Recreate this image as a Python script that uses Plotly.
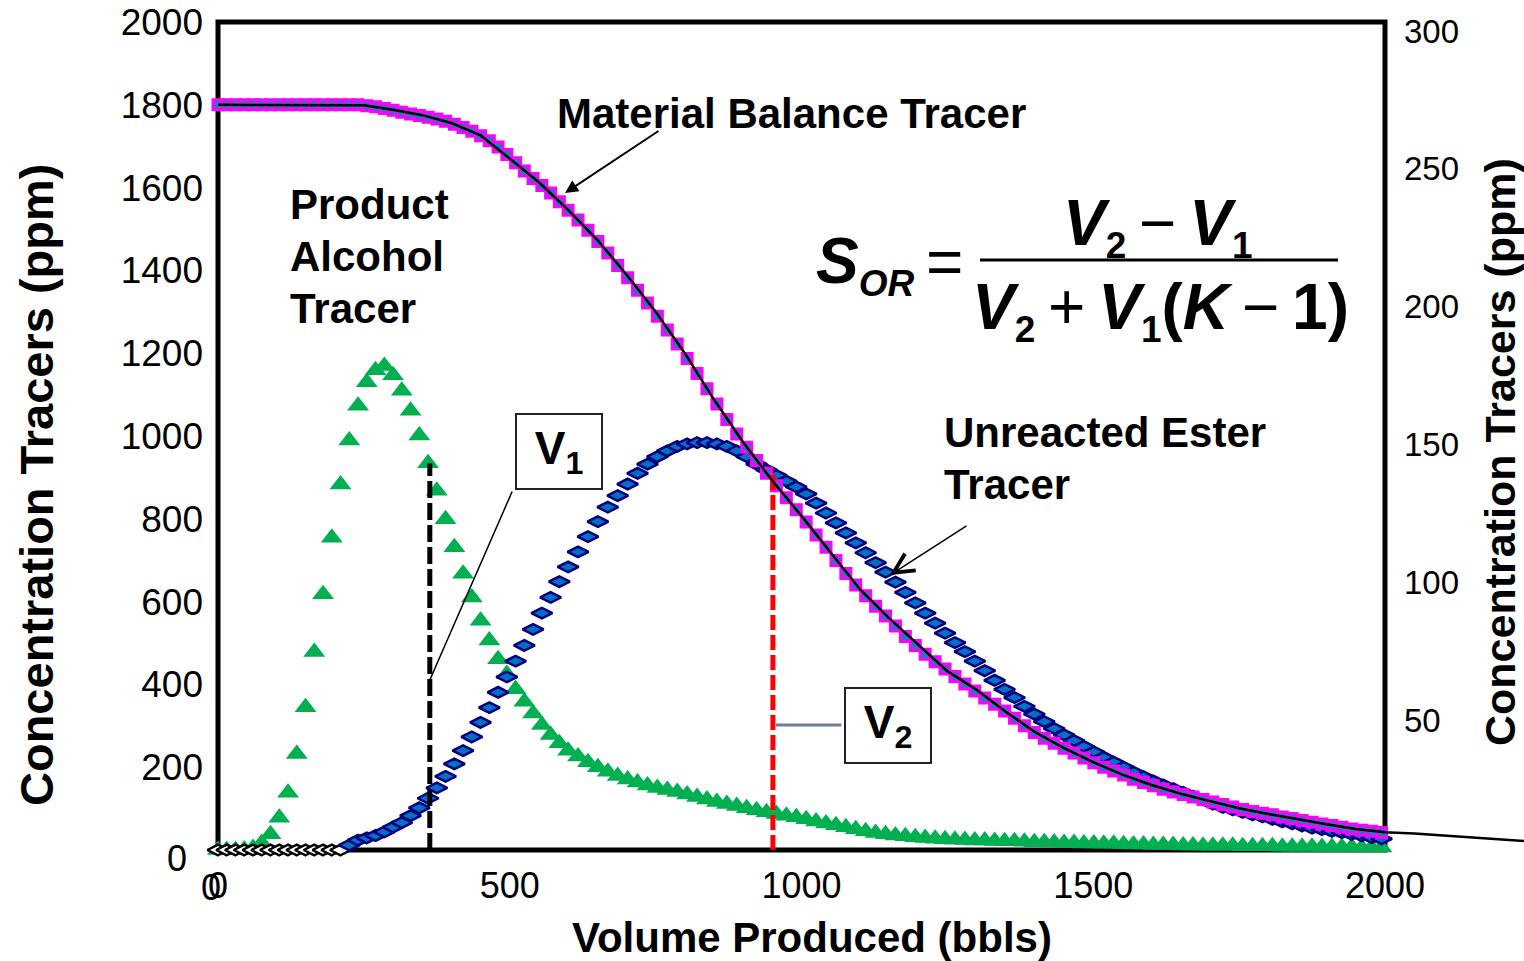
import plotly.graph_objects as go

# ---------------------------------------------------------------- data
# produced volume (bbls) at each tracer sample
volume_bbl = [
    0, 15, 30, 45, 60, 75, 90, 105, 120, 135, 150, 165, 180, 195, 210, 225, 240, 255, 270, 285,
    300, 315, 330, 345, 360, 375, 390, 405, 420, 435, 450, 465, 480, 495, 510, 525, 540, 555, 570, 585, 600,
    617, 634, 651, 668, 685, 702, 719, 736, 753, 770,
    787, 804, 821, 838, 855, 872, 889, 906, 923, 940,
    957, 974, 991, 1008, 1025, 1042, 1059, 1076, 1093, 1110,
    1127, 1144, 1161, 1178, 1195, 1212, 1229, 1246, 1263, 1280,
    1297, 1314, 1331, 1348, 1365, 1382, 1399, 1416, 1433, 1450,
    1467, 1484, 1501, 1518, 1535, 1552, 1569, 1586, 1603, 1620,
    1637, 1654, 1671, 1688, 1705, 1722, 1739, 1756, 1773, 1790,
    1807, 1824, 1841, 1858, 1875, 1892, 1909, 1926, 1943, 1960,
    1977, 1994,
]

# product alcohol tracer (ppm)
alcohol_ppm = [
    0, 0, 0, 1, 5, 17, 38, 78, 138, 232, 345, 478, 618, 754, 883, 989, 1073, 1130, 1159, 1169,
    1147, 1109, 1061, 1001, 934, 868, 799, 731, 667, 610, 554, 506, 461, 425, 388, 358, 330, 302, 278, 258, 240,
    226, 212, 200, 189, 179, 170, 163, 156, 150, 145,
    140, 134, 128, 122, 116, 111, 106, 101, 96, 91,
    87, 83, 79, 74, 69, 64, 60, 55, 50, 45,
    41, 38, 35, 33, 31, 29, 27, 26, 25, 24,
    23, 23, 22, 21, 21, 20, 19, 19, 18, 17,
    17, 16, 16, 15, 15, 14, 13, 13, 12, 12,
    12, 11, 11, 10, 10, 10, 10, 9, 9, 9,
    9, 8, 8, 8, 8, 7, 7, 7, 7, 6,
    6, 6,
]

# unreacted ester tracer (ppm)
ester_ppm = [
    0, 0, 0, 0, 0, 0, 0, 0, 0, 0, 0, 0, 0, 0, 0, 12, 24, 29, 35, 44,
    55, 66, 83, 102, 125, 150, 178, 208, 240, 273, 308, 344, 381, 418, 456, 494, 533, 572, 610, 648, 684,
    720, 757, 793, 828, 856, 884, 910, 932, 950, 964,
    975, 981, 984, 984, 981, 975, 964, 950, 932, 918,
    905, 891, 877, 860, 838, 814, 790, 766, 742, 718,
    694, 671, 647, 622, 597, 572, 548, 524, 501, 479,
    456, 433, 410, 388, 368, 347, 328, 310, 293, 278,
    264, 250, 237, 224, 212, 200, 188, 177, 167, 157,
    148, 139, 130, 121, 111, 103, 97, 91, 85, 80,
    74, 68, 63, 58, 53, 49, 45, 42, 38, 34,
    30, 27,
]

# material balance tracer (ppm)
balance_ppm = [
    1800, 1800, 1800, 1800, 1800, 1800, 1800, 1800, 1800, 1800, 1800, 1800, 1800, 1800, 1800, 1800, 1800,
    1798, 1795, 1791, 1787, 1782, 1778, 1774, 1770, 1766, 1760, 1753, 1745, 1736, 1725, 1713, 1698,
    1680, 1660, 1640, 1622, 1605, 1587, 1566, 1545,
    1522, 1497, 1470, 1442, 1412, 1382, 1352, 1321, 1289, 1256,
    1222, 1187, 1151, 1114, 1077, 1040, 1005, 973, 941, 910,
    880, 851, 822, 792, 761, 731, 699, 668, 640, 614,
    589, 565, 541, 516, 494, 473, 455, 437, 419, 401,
    384, 367, 352, 336, 318, 300, 284, 270, 258, 246,
    234, 222, 211, 200, 191, 181, 171, 163, 155, 147,
    140, 134, 128, 122, 116, 110, 104, 98, 93, 89,
    85, 80, 76, 71, 67, 63, 59, 55, 51, 48,
    45, 42,
]

# fitted material balance curve (ppm), continues past the last sample
model_bbl = [0, 50, 100, 150, 200, 250, 300, 350, 400, 450, 500, 550, 600, 650, 700, 750, 800, 850,
             900, 950, 1000, 1050, 1100, 1150, 1200, 1250, 1300, 1350, 1400, 1450, 1500, 1550, 1600,
             1650, 1700, 1750, 1800, 1850, 1900, 1950, 2000, 2050, 2100, 2150, 2200, 2238]
model_ppm = [1800, 1800, 1800, 1800, 1800, 1799, 1788, 1775, 1756, 1726, 1670, 1613, 1546, 1474, 1390,
             1300, 1200, 1088, 985, 892, 807, 718, 630, 560, 495, 432, 387, 334, 285, 246, 212, 182, 157,
             136, 118, 101, 87, 74, 62, 51, 43, 40, 35, 30, 25, 22]

# breakthrough volumes used in the residual oil saturation formula
V1_BBL, V1_PPM = 363, 934
V2_BBL, V2_PPM = 951, 920

# secondary (right) concentration scale
RIGHT_RANGE = [2.9, 303.3]
RIGHT_TICKS = [50, 100, 150, 200, 250, 300]

for name, arr in [("alcohol", alcohol_ppm), ("ester", ester_ppm), ("balance", balance_ppm)]:
    if len(arr) != len(volume_bbl):
        raise ValueError(f"{name}: {len(arr)} values for {len(volume_bbl)} volumes")
if len(model_ppm) != len(model_bbl):
    raise ValueError("model length mismatch")

# ---------------------------------------------------------------- geometry
W, H = 1524, 961
ML, MR, MT, MB = 218, 0, 22, 111
PLOT_RIGHT = 1385
X_END = (PLOT_RIGHT - ML) / (W - ML - MR)
FONT = "Liberation Sans, Arial, sans-serif"


def pp(px, py):
    """pixel position -> paper coordinates"""
    return (px - ML) / (W - ML - MR), (H - MB - py) / (H - MT - MB)


# ---------------------------------------------------------------- traces
fig = go.Figure()

fig.add_trace(go.Scatter(
    x=volume_bbl, y=alcohol_ppm, mode="markers", name="Product Alcohol Tracer",
    marker=dict(symbol="triangle-up", size=19, color="#00B050", line=dict(width=0)),
    cliponaxis=False))

fig.add_trace(go.Scatter(
    x=volume_bbl, y=ester_ppm, mode="markers", name="Unreacted Ester Tracer",
    marker=dict(symbol="diamond-wide", size=15,
                color=["white" if v == 0 else "#0070C0" for v in ester_ppm],
                line=dict(width=2.5, color=["black" if v == 0 else "#000080" for v in ester_ppm])),
    cliponaxis=False))

fig.add_trace(go.Scatter(
    x=volume_bbl, y=balance_ppm, mode="markers", name="Material Balance Tracer",
    marker=dict(symbol="square", size=10, color="#1F78C1", line=dict(width=3, color="#FF00FF")),
    cliponaxis=False))

fig.add_trace(go.Scatter(
    x=[V1_BBL, V1_BBL], y=[0, V1_PPM], mode="lines",
    line=dict(color="black", width=5, dash="17px,5px")))
fig.add_trace(go.Scatter(
    x=[V2_BBL, V2_BBL], y=[0, V2_PPM], mode="lines",
    line=dict(color="#FF0000", width=5, dash="15px,5px")))

fig.add_trace(go.Scatter(
    x=model_bbl, y=model_ppm, mode="lines", xaxis="x2", yaxis="y",
    line=dict(color="black", width=2.5)))

# empty trace so the right-hand scale is laid out
fig.add_trace(go.Scatter(x=[None], y=[None], yaxis="y2", mode="markers",
                         hoverinfo="skip", showlegend=False))

# ---------------------------------------------------------------- annotations
ann = []


def text(px, py, s, size=42, xanchor="left", yanchor="middle", angle=0, bold=True, **kw):
    x, y = pp(px, py)
    ann.append(dict(x=x, y=y, xref="paper", yref="paper", text=f"<b>{s}</b>" if bold else s,
                    showarrow=False, xanchor=xanchor, yanchor=yanchor, textangle=angle,
                    font=dict(family=FONT, size=size, color="black"), **kw))


# axis titles
text(36, 485, "Concentration Tracers (ppm)", size=47, xanchor="center", angle=-90)
text(1500, 452, "Concentration Tracers (ppm)", size=43, xanchor="center", angle=-90)
text(812, 937, "Volume Produced (bbls)", size=42, xanchor="center")

# extra zero labels at the origin
text(177, 858, "0", size=36, xanchor="center", bold=False)
text(211, 887, "0", size=36, xanchor="center", bold=False)

# curve labels
text(555, 113, "Material Balance Tracer")
text(288, 205, "Product")
text(288, 256, "Alcohol")
text(288, 308, "Tracer")
text(942, 432, "Unreacted Ester")
text(942, 484, "Tracer")

# pointer arrows
hx, hy = pp(565, 193)
ann.append(dict(x=hx, y=hy, xref="paper", yref="paper", text="", showarrow=True,
                ax=95, ay=-63, arrowhead=2, arrowsize=1.3, arrowwidth=2, arrowcolor="black"))
hx, hy = pp(890, 575)
ann.append(dict(x=hx, y=hy, xref="paper", yref="paper", text="", showarrow=True,
                ax=78, ay=-50, arrowhead=5, arrowsize=2.6, arrowwidth=1.5, arrowcolor="black"))

# V1 callout
bx, by = pp(559, 451.5)
ann.append(dict(x=bx, y=by, xref="paper", yref="paper",
                text="<b>V</b><sub><b>1</b></sub>", showarrow=False,
                xanchor="center", yanchor="middle", width=84, height=73, borderpad=0,
                bordercolor="#222222", borderwidth=2, bgcolor="white",
                font=dict(family=FONT, size=46, color="black")))
_, ly = pp(0, 680)
ann.append(dict(x=V1_BBL, y=ly, xref="x", yref="paper", text="", showarrow=True,
                ax=83, ay=-190, arrowhead=0, arrowwidth=1.5, arrowcolor="black"))

# V2 callout with its leader
bx, by = pp(887.5, 725.5)
ann.append(dict(x=bx, y=by, xref="paper", yref="paper",
                text="<b>V</b><sub><b>2</b></sub>", showarrow=False,
                xanchor="center", yanchor="middle", width=84, height=73, borderpad=0,
                bordercolor="#222222", borderwidth=2, bgcolor="white",
                font=dict(family=FONT, size=46, color="black")))
_, ly = pp(0, 725)
ann.append(dict(x=V2_BBL, y=ly, xref="x", yref="paper", text="", showarrow=True,
                ax=70, ay=0, arrowhead=0, arrowwidth=3, arrowcolor="#6F7D9F",
                standoff=3))

# residual oil saturation formula
SUB = "<sub><span style='font-size:37px'>{}</span></sub>"
SP = "\u2009"
eq_font = dict(family=FONT, size=64, color="black")


def eq(px, py, s, xanchor="center"):
    x, y = pp(px, py)
    ann.append(dict(x=x, y=y, xref="paper", yref="paper", text=s, showarrow=False,
                    xanchor=xanchor, yanchor="middle", font=eq_font))


eq(814, 264, "<b><i>S</i></b>" + SUB.format("<b><i>OR</i></b>"), xanchor="left")
eq(944, 262, "=")
eq(1158, 226, "<b><i>V</i></b>" + SUB.format("<b>2</b>") + SP + "\u2212" + SP
   + "<b><i>V</i></b>" + SUB.format("<b>1</b>"))
eq(1160, 310, "<b><i>V</i></b>" + SUB.format("<b>2</b>") + SP + "+" + SP
   + "<b><i>V</i></b>" + SUB.format("<b>1</b>") + "<b>(<i>K</i></b>" + SP + "\u2212" + SP
   + "<b>1)</b>")

bx0, bar_y = pp(980, 260)
bx1, _ = pp(1338, 260)

# ---------------------------------------------------------------- layout
fig.update_layout(
    template="none",
    width=W, height=H,
    margin=dict(l=ML, r=MR, t=MT, b=MB, pad=0, autoexpand=False),
    paper_bgcolor="white", plot_bgcolor="rgba(0,0,0,0)",
    showlegend=False,
    font=dict(family=FONT, color="black"),
    xaxis=dict(domain=[0, X_END], range=[0, 2000], tickvals=[0, 500, 1000, 1500, 2000],
               ticks="", showgrid=False, zeroline=False, showline=False, automargin=False,
               tickfont=dict(size=36, family=FONT, color="black"), ticklabelstandoff=11),
    xaxis2=dict(domain=[0, 1], range=[0, 2000 / X_END], anchor="y", visible=False,
                automargin=False),
    yaxis=dict(range=[0, 2000], tickvals=list(range(200, 2001, 200)),
               ticks="", showgrid=False, zeroline=False, showline=False, automargin=False,
               tickfont=dict(size=37, family=FONT, color="black"), ticklabelstandoff=14),
    yaxis2=dict(overlaying="y", side="right", anchor="x", range=RIGHT_RANGE,
                tickvals=RIGHT_TICKS, ticks="", showgrid=False, automargin=False,
                zeroline=False, showline=False,
                tickfont=dict(size=33, family=FONT, color="black"), ticklabelstandoff=18),
    annotations=ann,
    shapes=[
        dict(type="rect", xref="x domain", yref="y domain", x0=0, x1=1, y0=0, y1=1,
             line=dict(color="black", width=5), fillcolor="rgba(0,0,0,0)", layer="below"),
        dict(type="line", xref="paper", yref="paper", x0=bx0, x1=bx1, y0=bar_y, y1=bar_y,
             line=dict(color="black", width=3)),
    ],
)

fig.write_html("out.html", config={"displayModeBar": False})
